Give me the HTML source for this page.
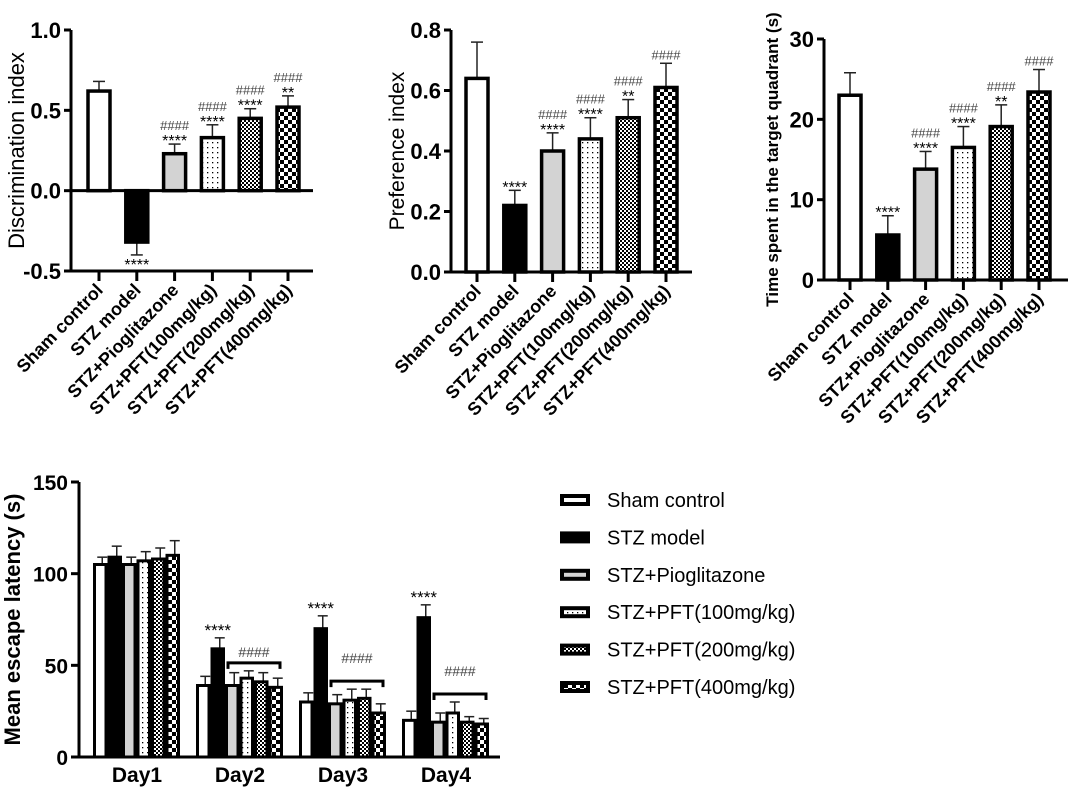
<!DOCTYPE html>
<html><head><meta charset="utf-8"><style>
html,body{margin:0;padding:0;background:#fff;}
svg{display:block;font-family:"Liberation Sans",Arial,sans-serif;}
</style></head><body>
<svg id="fig" width="1072" height="788" viewBox="0 0 1072 788">
<defs>
<pattern id="p-dots" width="5" height="5" patternUnits="userSpaceOnUse"><rect width="5" height="5" fill="#fff"/><rect x="2" y="2" width="1.3" height="1.3" fill="#000"/></pattern>
<pattern id="p-fine" width="4" height="4" patternUnits="userSpaceOnUse"><rect width="4" height="4" fill="#fff"/><rect width="2" height="2" fill="#000"/><rect x="2" y="2" width="2" height="2" fill="#000"/></pattern>
<pattern id="p-coarse" width="8" height="8" patternUnits="userSpaceOnUse"><rect width="8" height="8" fill="#fff"/><rect width="4" height="4" fill="#000"/><rect x="4" y="4" width="4" height="4" fill="#000"/></pattern>
</defs>
<g id="root"></g>
</svg>
<script>
const groups = ["Sham control","STZ model","STZ+Pioglitazone","STZ+PFT(100mg/kg)","STZ+PFT(200mg/kg)","STZ+PFT(400mg/kg)"];
const fills = ["#fff","#000","#d3d3d3","url(#p-dots)","url(#p-fine)","url(#p-coarse)"];
const diValues = [0.62,-0.32,0.23,0.33,0.45,0.52];
const diErrors = [0.06,0.08,0.06,0.08,0.06,0.07];
const diMarks = ["","****","####\n****","####\n****","####\n****","####\n**"];
const diTicks = [-0.5,0,0.5,1.0];
const diTickLabels = ["-0.5","0.0","0.5","1.0"];
const piValues = [0.64,0.22,0.40,0.44,0.51,0.61];
const piErrors = [0.12,0.05,0.06,0.07,0.06,0.08];
const piMarks = ["","****","####\n****","####\n****","####\n**","####"];
const piTicks = [0,0.2,0.4,0.6,0.8];
const piTickLabels = ["0.0","0.2","0.4","0.6","0.8"];
const tqValues = [23,5.6,13.8,16.5,19.1,23.4];
const tqErrors = [2.8,2.4,2.2,2.6,2.7,2.8];
const tqMarks = ["","****","####\n****","####\n****","####\n**","####"];
const tqTicks = [0,10,20,30];
const tqTickLabels = ["0","10","20","30"];
const days = ["Day1","Day2","Day3","Day4"];
const latSham = [105,39,30,20];
const latStz = [109,59,70,76];
const latPio = [105,39,29,19];
const latP100 = [107,43,31,24];
const latP200 = [108,41,32,19];
const latP400 = [110,38,24,18];
const errSham = [4,5,5,5];
const errStz = [6,6,7,7];
const errPio = [4,7,5,5];
const errP100 = [5,4,6,6];
const errP200 = [6,5,5,3];
const errP400 = [8,5,5,3];
const latTicks = [0,50,100,150];

const NS="http://www.w3.org/2000/svg";
const root=document.getElementById('root');
function el(tag,attrs,parent,text){const e=document.createElementNS(NS,tag);for(const k in attrs)e.setAttribute(k,attrs[k]);if(text!==undefined)e.textContent=text;(parent||root).appendChild(e);return e;}

function barChart(cfg){
  const g=el('g',{});
  
  
  const y=v=>cfg.y0+(v-cfg.vmin)/(cfg.vmax-cfg.vmin)*(cfg.y1-cfg.y0);
  const x=i=>cfg.xc0+i*cfg.step;
  const zero=y(Math.max(0,cfg.vmin));
  cfg.values.forEach((v,i)=>{
    const top=v>=0?v+cfg.errors[i]:v-cfg.errors[i];
    const eb=el('line',{x1:x(i),x2:x(i),y1:y(v),y2:y(top),stroke:'#222','stroke-width':1.5},g);
    
    
    const cap=el('line',{x1:x(i)-6,x2:x(i)+6,y1:y(top),y2:y(top),stroke:'#222','stroke-width':1.5},g);
    
    
    const yt=Math.min(y(v),zero),h=Math.abs(y(v)-zero);
    const r=el('rect',{x:x(i)-11,y:yt,width:22,height:h,fill:fills[i],stroke:'#000','stroke-width':3.5},g);
    
    
    const m=cfg.marks[i];
    if(m){
      const lines=m.split('\n');
      if(v<0){
        const t=el('text',{x:x(i),y:y(top)+15,'text-anchor':'middle','font-size':16},g,lines[0]);
        
        
      } else {
        let by=y(top)-4;
        for(let k=lines.length-1;k>=0;k--){
          const isHash=lines[k][0]==='#';
          const t=el('text',{x:x(i),y:by+(isHash?0:6),'text-anchor':'middle','font-size':isHash?13:16,fill:isHash?'#444':'#000'},g,lines[k]);
          
          
          by-=isHash?13:10;
        }
      }
    }
  });
  const ya=el('line',{x1:cfg.ax,x2:cfg.ax,y1:y(cfg.vmax),y2:cfg.y0,stroke:'#000','stroke-width':3},g);
  
  
  const xa=el('line',{x1:cfg.ax,x2:cfg.xend,y1:zero,y2:zero,stroke:'#000','stroke-width':3},g);
  
  
  if(cfg.vmin<0){
    const bl=el('line',{x1:cfg.ax,x2:cfg.xend,y1:cfg.y0,y2:cfg.y0,stroke:'#000','stroke-width':3},g);
    
    
  }
  cfg.ticks.forEach((t,k)=>{
    el('line',{x1:cfg.ax-7,x2:cfg.ax,y1:y(t),y2:y(t),stroke:'#000','stroke-width':3},g);
    const tl=el('text',{x:cfg.ax-10,y:y(t)+8,'text-anchor':'end','font-size':22,'font-weight':'bold'},g,cfg.tickLabels[k]);
    
    
  });
  groups.forEach((name,i)=>{
    el('line',{x1:x(i),x2:x(i),y1:cfg.y0,y2:cfg.y0+10,stroke:'#000','stroke-width':3},g);
    const t=el('text',{transform:`translate(${x(i)+5},${cfg.y0+20}) rotate(-46)`,'text-anchor':'end','font-size':18,'font-weight':'bold'},g,name);
    
    
  });
  const tt=el('text',{transform:`translate(${cfg.titleX},${(cfg.y0+y(cfg.vmax))/2}) rotate(-90)`,'text-anchor':'middle','font-size':cfg.titleSize,'font-weight':cfg.titleWeight},g,cfg.title);
  
  
}

barChart({name:'discrimination-chart',values:diValues,errors:diErrors,marks:diMarks,ticks:diTicks,tickLabels:diTickLabels,vmin:-0.5,vmax:1.0,y0:271,y1:30,ax:71,xend:313,xc0:99,step:37.8,title:'Discrimination index',titleX:24,titleSize:22,titleWeight:'normal'});
barChart({name:'preference-chart',values:piValues,errors:piErrors,marks:piMarks,ticks:piTicks,tickLabels:piTickLabels,vmin:0,vmax:0.8,y0:272,y1:30,ax:451,xend:692,xc0:477,step:37.8,title:'Preference index',titleX:404,titleSize:21,titleWeight:'normal'});
barChart({name:'target-quadrant-chart',values:tqValues,errors:tqErrors,marks:tqMarks,ticks:tqTicks,tickLabels:tqTickLabels,vmin:0,vmax:30,y0:280,y1:39,ax:824,xend:1068,xc0:850,step:37.8,title:'Time spent in the target quadrant (s)',titleX:778,titleSize:17,titleWeight:'bold'});

(function(){
  const g=el('g',{});
  
  
  const y0=757,y1=482,ax=79;
  const y=v=>y0-v/150*(y0-y1);
  const series=[latSham,latStz,latPio,latP100,latP200,latP400];
  const errs=[errSham,errStz,errPio,errP100,errP200,errP400];
  const bw=14.5, gx=d=>93+d*103;
  days.forEach((day,d)=>{
    series.forEach((s,i)=>{
      const xl=gx(d)+i*bw, v=s[d], top=v+errs[i][d];
      el('line',{x1:xl+bw/2+2,x2:xl+bw/2+2,y1:y(v),y2:y(top),stroke:'#222','stroke-width':1.5},g);
      el('line',{x1:xl+bw/2-3,x2:xl+bw/2+7,y1:y(top),y2:y(top),stroke:'#222','stroke-width':1.5},g);
    });
    series.forEach((s,i)=>{
      const xl=gx(d)+i*bw, v=s[d];
      const r=el('rect',{x:xl+1.5,y:y(v),width:bw-3,height:y0-y(v),fill:fills[i],stroke:'#000','stroke-width':3},g);
      
      
    });
    const dl=el('text',{x:gx(d)+44,y:y0+25,'text-anchor':'middle','font-size':21,'font-weight':'bold'},g,day);
    
    
    if(d>0){
      const sx=gx(d)+bw*1.5, stop=latStz[d]+errStz[d];
      const st=el('text',{x:sx,y:y(stop)-2,'text-anchor':'middle','font-size':17},g,'****');
      
      
      const maxTop=Math.max(...[2,3,4,5].map(i=>series[i][d]+errs[i][d]));
      const by=y(maxTop)-8, bx1=gx(d)+2*bw+3, bx2=gx(d)+6*bw-3;
      const br=el('path',{d:`M${bx1},${by+6}V${by}H${bx2}V${by+6}`,fill:'none',stroke:'#000','stroke-width':3},g);
      
      
      const hl=el('text',{x:(bx1+bx2)/2,y:by-(d===1?6:18),'text-anchor':'middle','font-size':14,fill:'#444'},g,'####');
      
      
    }
  });
  const ya=el('line',{x1:ax,x2:ax,y1:y1,y2:y0,stroke:'#000','stroke-width':3},g);
  
  
  const xa=el('line',{x1:ax,x2:500,y1:y0,y2:y0,stroke:'#000','stroke-width':3},g);
  
  
  latTicks.forEach(t=>{
    el('line',{x1:ax-8,x2:ax,y1:y(t),y2:y(t),stroke:'#000','stroke-width':3},g);
    const tl=el('text',{x:ax-11,y:y(t)+8,'text-anchor':'end','font-size':21,'font-weight':'bold'},g,String(t));
    
    
  });
  const tt=el('text',{transform:`translate(20,${(y0+y1)/2}) rotate(-90)`,'text-anchor':'middle','font-size':22,'font-weight':'bold'},g,'Mean escape latency (s)');
  
  
})();

(function(){
  const g=el('g',{});
  
  
  groups.forEach((name,i)=>{
    const cy=500+i*37.4;
    const e=el('g',{},g);
    
    
    el('rect',{x:562,y:cy-4,width:26,height:8,fill:fills[i],stroke:'#000','stroke-width':4},e);
    el('text',{x:607,y:cy+7,'font-size':20},e,name);
  });
})();
</script>
</body></html>
